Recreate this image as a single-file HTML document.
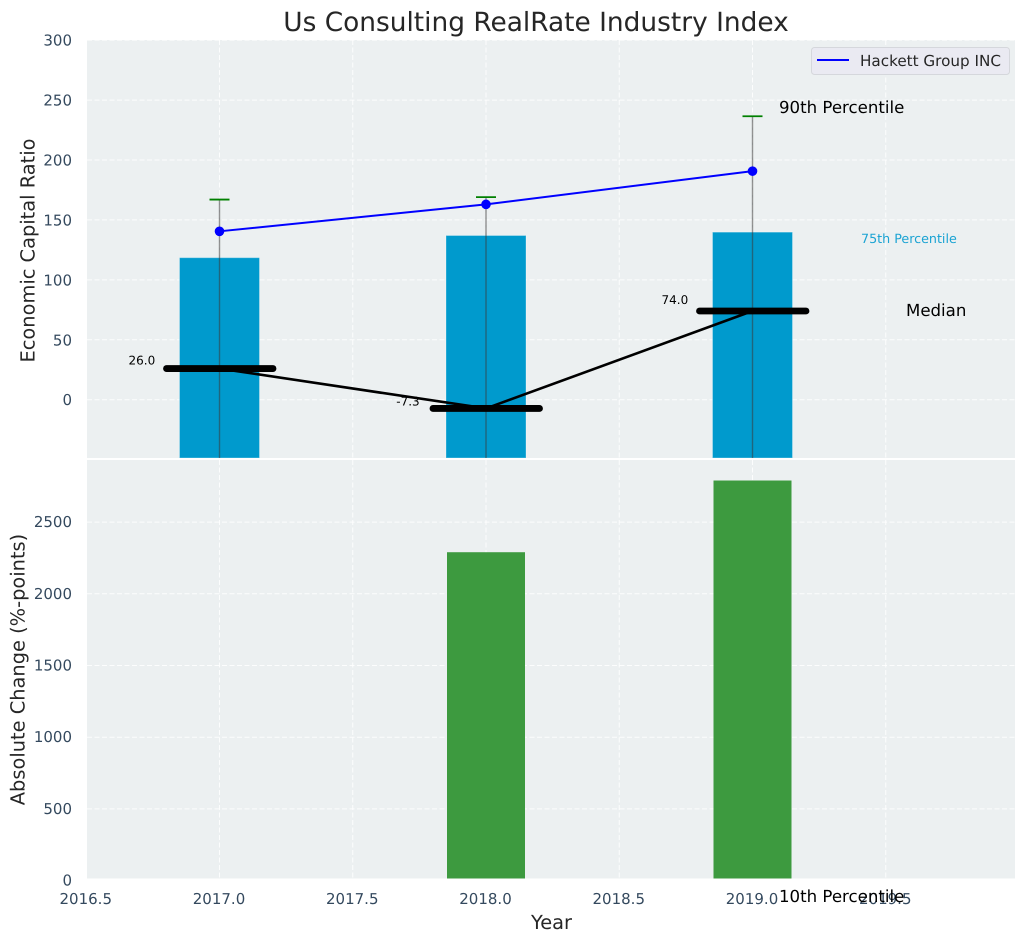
<!DOCTYPE html>
<html lang="en">
<head>
<meta charset="utf-8">
<title>Us Consulting RealRate Industry Index</title>
<style>
html,body{margin:0;padding:0;background:#fff;}
svg{display:block;font-family:"DejaVu Sans","Liberation Sans",sans-serif;text-rendering:geometricPrecision;}
</style>
</head>
<body>
<svg id="chart" xmlns="http://www.w3.org/2000/svg" width="1026" height="942" viewBox="0 0 1026 942">
<defs>
<clipPath id="clip-top"><rect x="87" y="40" width="928" height="418"/></clipPath>
<clipPath id="clip-bottom"><rect x="87" y="460" width="928" height="418.5"/></clipPath>
<clipPath id="clip-bottom-grid"><rect x="87" y="460" width="928" height="418.5"/></clipPath>
</defs>
<rect x="87" y="40" width="928" height="418" fill="#ecf0f1"/>
<rect x="87" y="460" width="928" height="418.5" fill="#ecf0f1"/>
<g id="grid"></g>
<g id="marks-top" clip-path="url(#clip-top)"></g>
<g id="marks-bottom" clip-path="url(#clip-bottom)"></g>
<g id="ticks"></g>
<g id="labels"></g>
<text x="536" y="31" text-anchor="middle" font-size="26.4" fill="#262626">Us Consulting RealRate Industry Index</text>
<text transform="translate(34.5,250.5) rotate(-90)" text-anchor="middle" font-size="19.4" fill="#262626">Economic Capital Ratio</text>
<text transform="translate(24.5,669.5) rotate(-90)" text-anchor="middle" font-size="19.4" fill="#262626">Absolute Change (%-points)</text>
<text x="551.5" y="929" text-anchor="middle" font-size="19.4" fill="#262626">Year</text>
<g>
<rect x="811.5" y="47.5" width="198" height="27" rx="3" fill="#eaeaf2" stroke="#d5d7dc" stroke-width="1"/>
<line x1="817" y1="60" x2="849" y2="60" stroke="#0000ff" stroke-width="2"/>
<text x="860" y="66" font-size="15.2" fill="#262626">Hackett Group INC</text>
</g>
</svg>
<script>
const years = [2017, 2018, 2019];
const p75Values = [118.5, 137, 139.8];
const p90Values = [167, 169, 236.5];
const p10Values = [-80, -80, -80];
const hackettValues = [140.5, 163, 190.7];
const medianValues = [26.0, -7.3, 74.0];
const changeYears = [2018, 2019];
const changeValues = [2290, 2790];
const xTicks = [2016.5, 2017.0, 2017.5, 2018.0, 2018.5, 2019.0, 2019.5];
const topYTicks = [0, 50, 100, 150, 200, 250, 300];
const bottomYTicks = [0, 500, 1000, 1500, 2000, 2500];

const NS = 'http://www.w3.org/2000/svg';
function x(v){ return 219.5 + (v - 2017) * 266.5; }
function yTop(v){ return 399.7 - v * 1.1985; }
function yBottom(v){ return 880.6 - v * 0.1434; }
function make(parent, tag, attrs, text){
  const el = document.createElementNS(NS, tag);
  Object.keys(attrs).forEach(function(k){ el.setAttribute(k, attrs[k]); });
  if (text !== undefined) el.textContent = text;
  parent.appendChild(el);
  return el;
}
const grid = document.getElementById('grid');
const topG = document.getElementById('marks-top');
const botG = document.getElementById('marks-bottom');
const ticksG = document.getElementById('ticks');
const labelsG = document.getElementById('labels');
const gridStyle = {stroke:'#ffffff','stroke-width':1,'stroke-dasharray':'5 2.5','stroke-opacity':0.85};
const tickColor = '#34495e';

xTicks.forEach(function(t){
  let el = make(grid, 'line', Object.assign({x1:x(t),x2:x(t),y1:40,y2:458}, gridStyle));
  
  
  el = make(grid, 'line', Object.assign({x1:x(t),x2:x(t),y1:460,y2:878.5}, gridStyle));
  
  
  el = make(ticksG, 'text', {x:x(t)-0.5,y:904,'text-anchor':'middle','font-size':15,fill:tickColor}, t.toFixed(1));
  
  
});
topYTicks.forEach(function(t){
  let el = make(grid, 'line', Object.assign({x1:87,x2:1015,y1:yTop(t),y2:yTop(t)}, gridStyle));
  
  
  el = make(ticksG, 'text', {x:72,y:yTop(t)+5.5,'text-anchor':'end','font-size':15,fill:tickColor}, String(t));
  
  
});
bottomYTicks.forEach(function(t){
  let el = make(grid, 'line', Object.assign({x1:87,x2:1015,y1:yBottom(t),y2:yBottom(t),'clip-path':'url(#clip-bottom-grid)'}, gridStyle));
  
  
  el = make(ticksG, 'text', {x:72,y:yBottom(t)+5,'text-anchor':'end','font-size':15,fill:tickColor}, String(t));
  
  
});

years.forEach(function(yr, i){
  const el = make(topG, 'rect', {x:x(yr)-40,y:yTop(p75Values[i]),width:80,height:458-yTop(p75Values[i]),fill:'#009acd',stroke:'#ffffff','stroke-opacity':0.3,'stroke-width':1});
  
  
});
years.forEach(function(yr, i){
  const el = make(topG, 'line', {x1:x(yr),x2:x(yr),y1:yTop(p90Values[i]),y2:yTop(p10Values[i]),stroke:'#3b3b3b','stroke-width':1.4,'stroke-opacity':0.55});
  
  
  const cap = make(topG, 'line', {x1:x(yr)-10,x2:x(yr)+10,y1:yTop(p90Values[i]),y2:yTop(p90Values[i]),stroke:'#008000','stroke-width':1.8});
  
  
});
const medianPath = make(topG, 'polyline', {points:years.map(function(yr,i){return x(yr)+','+yTop(medianValues[i]);}).join(' '),fill:'none',stroke:'#000','stroke-width':2.6});


years.forEach(function(yr, i){
  const el = make(topG, 'line', {x1:x(yr)-53,x2:x(yr)+53.5,y1:yTop(medianValues[i]),y2:yTop(medianValues[i]),stroke:'#000','stroke-width':6.8,'stroke-linecap':'round'});
  
  
});
const hackettPath = make(topG, 'polyline', {points:years.map(function(yr,i){return x(yr)+','+yTop(hackettValues[i]);}).join(' '),fill:'none',stroke:'#0000ff','stroke-width':2});


years.forEach(function(yr, i){
  const el = make(topG, 'circle', {cx:x(yr),cy:yTop(hackettValues[i]),r:4.8,fill:'#0000ff'});
  
  
});
changeYears.forEach(function(yr, i){
  const el = make(botG, 'rect', {x:x(yr)-39,y:yBottom(changeValues[i]),width:78,height:yBottom(0)-yBottom(changeValues[i]),fill:'#3d9a3f'});
  
  
});
years.forEach(function(yr, i){
  const lift = i === 0 ? 4 : (i === 1 ? 3 : 7);
  const el = make(labelsG, 'text', {x:x(yr)-91,y:yTop(medianValues[i])-lift,'text-anchor':i===1?'middle':'start','font-size':12,fill:'#000'}, medianValues[i].toFixed(1));
  if (i===1) el.setAttribute('x', x(yr)-78);
  
  
});

let note = make(labelsG, 'text', {x:779,y:113,'font-size':16.6,fill:'#000'}, '90th Percentile');


note = make(labelsG, 'text', {x:861,y:243,'font-size':12.7,fill:'#1ba3d3'}, '75th Percentile');


note = make(labelsG, 'text', {x:906,y:316,'font-size':16.6,fill:'#000'}, 'Median');


note = make(labelsG, 'text', {x:779,y:902,'font-size':16.6,fill:'#000'}, '10th Percentile');


</script>
</body>
</html>
